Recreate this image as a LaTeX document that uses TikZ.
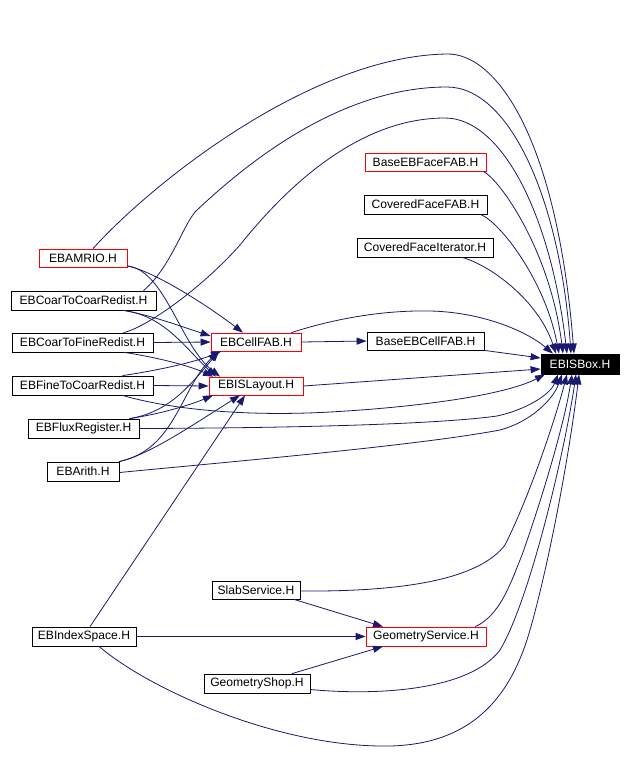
\documentclass[tikz,border=0pt]{standalone}
\usepackage{fontspec}
\setmainfont{Liberation Sans}
\usetikzlibrary{arrows.meta}
\definecolor{edgec}{HTML}{191970}
\begin{document}
\begin{tikzpicture}[x=1pt,y=-1pt,
  box/.style={draw=black, line width=0.8pt, fill=white, inner sep=0pt, font=\fontsize{12.1}{14}\selectfont, anchor=center},
  redbox/.style={box, draw=red},
  dep/.style={draw=edgec, line width=0.8pt, -{Triangle[length=10pt,width=7pt]}},
]
\fill[white] (0,0) rectangle (632,780);
\useasboundingbox (0,0) rectangle (632,780);

% nodes
\node[redbox, minimum width=88pt, minimum height=18pt] (amrio) at (83,258) {EBAMRIO.H};
\node[box, minimum width=145pt, minimum height=19pt] (c2c) at (83.5,300.5) {EBCoarToCoarRedist.H};
\node[box, minimum width=141pt, minimum height=19pt] (c2f) at (82.5,342.5) {EBCoarToFineRedist.H};
\node[box, minimum width=141pt, minimum height=19pt] (f2c) at (82.5,385.5) {EBFineToCoarRedist.H};
\node[box, minimum width=111pt, minimum height=19pt] (flux) at (83.5,428.5) {EBFluxRegister.H};
\node[box, minimum width=72pt, minimum height=19pt] (arith) at (83,471.5) {EBArith.H};
\node[box, minimum width=104pt, minimum height=19pt] (idx) at (84,636.5) {EBIndexSpace.H};
\node[redbox, minimum width=90pt, minimum height=18pt] (cell) at (256,342) {EBCellFAB.H};
\node[redbox, minimum width=94pt, minimum height=18pt] (layout) at (256,386) {EBISLayout.H};
\node[redbox, minimum width=121pt, minimum height=18pt] (bface) at (425.5,162) {BaseEBFaceFAB.H};
\node[box, minimum width=123pt, minimum height=19pt] (cface) at (425.5,204.5) {CoveredFaceFAB.H};
\node[box, minimum width=136pt, minimum height=19pt] (citer) at (425,247.5) {CoveredFaceIterator.H};
\node[box, minimum width=117pt, minimum height=18pt] (bcell) at (425.5,341) {BaseEBCellFAB.H};
\node[box, fill=black, text=white, minimum width=78pt, minimum height=20pt] (ebisbox) at (580,364) {EBISBox.H};
\node[box, minimum width=88pt, minimum height=18pt] (slab) at (256,590) {SlabService.H};
\node[redbox, minimum width=120pt, minimum height=19pt] (geoserv) at (426,636.5) {GeometryService.H};
\node[box, minimum width=106pt, minimum height=19pt] (geoshop) at (257,683.5) {GeometryShop.H};

% arcs over the top into EBISBox
\draw[dep] ([xshift=10pt]amrio.north) .. controls (150,185) and (310,56) .. (447,54) .. controls (497,53) and (557,140) .. ([xshift=-6pt]ebisbox.north);
\draw[dep] ([xshift=60pt]c2c.north) .. controls (170,268) and (182,228) .. (195,212) .. controls (260,150) and (350,87) .. (447,87) .. controls (510,87) and (560,200) .. ([xshift=-9pt]ebisbox.north);
\draw[dep] ([xshift=41pt]c2f.north) .. controls (145,328) and (200,290) .. (240,245) .. controls (300,170) and (370,118) .. (445,118) .. controls (500,118) and (550,210) .. ([xshift=-13pt]ebisbox.north);

% right column into EBISBox
\draw[dep] ([xshift=-3pt]bface.south east) .. controls (500,180) and (550,250) .. ([xshift=-17pt]ebisbox.north);
\draw[dep] ([xshift=-7pt]cface.south east) .. controls (500,222) and (545,280) .. ([xshift=-21pt]ebisbox.north);
\draw[dep] ([xshift=37pt]citer.south) .. controls (490,265) and (538,300) .. ([xshift=-24pt]ebisbox.north);
\draw[dep] ([xshift=-10pt]cell.north east) .. controls (330,320) and (380,310) .. (430,311) .. controls (480,312) and (525,330) .. ([xshift=-27pt]ebisbox.north);
\draw[dep] (cell.east) -- (bcell.west);
\draw[dep] (bcell.south east) -- ([yshift=6pt]ebisbox.west);
\draw[dep] (layout.east) -- ([yshift=-5pt]ebisbox.west);

% lower lines into EBISBox
\draw[dep] ([xshift=40pt]f2c.south) .. controls (180,412) and (260,416) .. (330,412) .. controls (420,407) and (505,395) .. ([xshift=-35pt]ebisbox.south);
\draw[dep] (flux.east) .. controls (300,428) and (440,424) .. (497,416) .. controls (525,410) and (550,395) .. ([xshift=-22pt]ebisbox.south);
\draw[dep] ([yshift=-1pt]arith.east) .. controls (250,460) and (420,445) .. (500,430) .. controls (530,422) and (553,400) .. ([xshift=-18pt]ebisbox.south);
\draw[dep] ([yshift=-1pt]slab.east) .. controls (420,592) and (482,575) .. (505,545) .. controls (530,495) and (555,420) .. ([xshift=-13pt]ebisbox.south);
\draw[dep] ([xshift=-11pt]geoserv.north east) .. controls (500,615) and (510,585) .. (522,555) .. controls (545,490) and (565,420) .. ([xshift=-8pt]ebisbox.south);
\draw[dep] ([yshift=-6pt]geoshop.east) .. controls (380,696) and (470,690) .. (500,650) .. controls (530,600) and (565,450) .. ([xshift=-4pt]ebisbox.south);
\draw[dep] ([xshift=15pt]idx.south) .. controls (150,690) and (280,748) .. (390,746) .. controls (470,744) and (510,700) .. (530,630) .. controls (550,560) and (570,450) .. ([xshift=-1pt]ebisbox.south);

% bottom group
\draw[dep] ([xshift=6pt]idx.north) -- ([xshift=-11pt]layout.south);
\draw[dep] (idx.east) -- (geoserv.west);
\draw[dep] ([xshift=38pt]slab.south) -- ([xshift=-43pt]geoserv.north);
\draw[dep] ([xshift=35pt]geoshop.north) -- ([xshift=-43pt]geoserv.south);

% left cluster into EBCellFAB / EBISLayout
\draw[dep] ([yshift=-8pt]amrio.east) .. controls (150,270) and (200,300) .. ([xshift=-13pt]cell.north);
\draw[dep] ([yshift=-8pt]amrio.east) .. controls (165,270) and (180,345) .. ([xshift=-36pt]layout.north);
\draw[dep] ([xshift=40pt]c2c.south) .. controls (150,315) and (180,326) .. ([yshift=6pt]cell.west);
\draw[dep] ([xshift=40pt]c2c.south) .. controls (165,316) and (185,348) .. ([xshift=-40pt]layout.north);
\draw[dep] (c2f.east) -- (cell.west);
\draw[dep] ([xshift=42pt]c2f.south) .. controls (160,358) and (190,366) .. ([xshift=-43pt]layout.north);
\draw[dep] ([xshift=40pt]f2c.north) .. controls (160,370) and (195,362) .. ([xshift=-35pt]cell.south);
\draw[dep] (f2c.east) -- (layout.west);
\draw[dep] ([xshift=46pt]flux.north) .. controls (170,412) and (190,385) .. ([xshift=-37pt]cell.south);
\draw[dep] ([xshift=46pt]flux.north) .. controls (160,414) and (190,405) .. ([xshift=-43pt]layout.south);
\draw[dep] ([xshift=36pt]arith.north) .. controls (175,450) and (180,390) .. ([xshift=-38pt]cell.south);
\draw[dep] ([xshift=36pt]arith.north) .. controls (150,455) and (200,420) .. ([xshift=-16pt]layout.south);
\end{tikzpicture}
\end{document}
